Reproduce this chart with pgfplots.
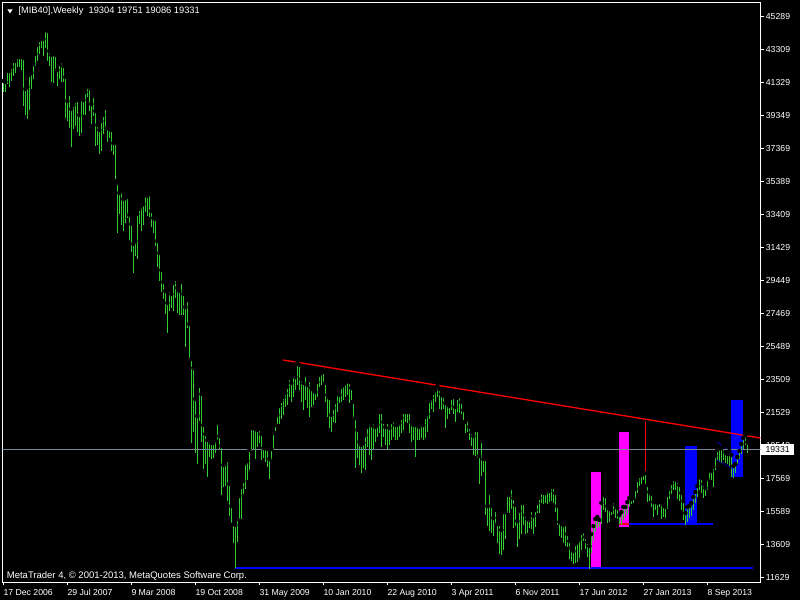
\documentclass[border=0pt]{standalone}
\usepackage{pgfplots}
\usepackage{pgfplotstable}
\usepackage{fontspec}
\setmainfont{Liberation Sans}
\usetikzlibrary{backgrounds}
\pgfplotsset{compat=1.18}
\definecolor{barg}{RGB}{50,205,50}
\definecolor{pline}{RGB}{119,136,153}
\definecolor{mag}{RGB}{255,0,255}
\definecolor{mblue}{RGB}{0,0,255}
\definecolor{mred}{RGB}{255,0,0}

\pgfplotstableread{
i hi lo
0 41431 40771
1 41371 40771
2 42031 41251
3 42031 41071
4 42271 41431
5 42631 41731
6 42631 41911
7 42871 42271
8 42871 42271
9 42931 42091
10 42811 39931
11 40951 39391
12 41071 39151
13 41791 39691
14 41911 40951
15 42451 41551
16 43051 42331
17 43591 42631
18 43891 43051
19 43951 43411
20 43951 42931
21 44491 43411
22 44431 42631
23 43231 42331
24 42991 41371
25 43051 41311
26 42991 42031
27 42091 41131
28 42451 41551
29 42631 41371
30 42331 41371
31 41671 39211
32 40231 39031
33 40651 38611
34 39751 37471
35 39991 38551
36 40231 38731
37 40291 38371
38 39391 38131
39 40351 38311
40 40291 39391
41 40771 39391
42 41131 40471
43 41011 39631
44 40051 38851
45 40531 39331
46 39631 37531
47 38791 37591
48 38491 37051
49 39031 37231
50 39391 38251
51 39811 38491
52 38611 37771
53 38551 38011
54 38491 37231
55 37711 36991
56 37711 35551
57 35311 32311
58 34711 33451
59 34831 32791
60 34351 32431
61 34411 32911
62 34471 33211
63 33391 31891
64 32851 31171
65 31651 29911
66 31831 30931
67 33451 30751
68 33751 32851
69 33931 32431
70 34051 32791
71 34591 33571
72 34531 33331
73 34651 33271
74 33631 32671
75 33211 32311
76 33151 31531
77 31831 30271
78 31111 29431
79 30091 28771
80 29371 28351
81 28831 27451
82 28111 26311
83 28891 27631
84 28651 27811
85 29311 27631
86 29551 28411
87 29011 27511
88 28831 27391
89 29371 27391
90 28651 27391
91 27871 25471
92 28291 26611
93 26851 24811
94 24751 19711
95 24211 20371
96 22351 19111
97 21331 18451
98 23131 21031
99 22651 19771
100 20791 18151
101 20251 18451
102 19891 17671
103 19891 18871
104 19711 18751
105 19711 18811
106 19891 19111
107 20911 19891
108 20131 19291
109 19531 16591
110 18391 17071
111 18451 17131
112 18691 16231
113 17251 15331
114 15931 14911
115 14851 13711
116 14791 12211
117 15151 13771
118 16531 15151
119 17071 15151
120 17431 16651
121 18511 16951
122 18631 17491
123 19291 18091
124 20611 19231
125 20611 19291
126 20551 18751
127 20491 19471
128 20551 19711
129 20251 18691
130 19411 18811
131 19411 18571
132 19351 18271
133 18751 17551
134 19351 18691
135 20311 19291
136 20791 20431
137 21391 20851
138 21931 20851
139 22231 21151
140 22471 21391
141 22711 21871
142 23071 21991
143 23611 22471
144 23311 22171
145 23731 22471
146 23671 22891
147 24511 23191
148 24391 22891
149 23551 22171
150 23311 21691
151 23791 22291
152 23191 21811
153 23491 21271
154 23011 21871
155 22891 21991
156 22771 22291
157 23371 22471
158 23791 23071
159 23911 23191
160 23971 23311
161 23311 22171
162 22591 21271
163 22411 20611
164 21391 20371
165 21811 20971
166 22171 20911
167 22771 21571
168 22591 22111
169 23071 22171
170 23191 22291
171 23311 22471
172 23491 22591
173 23371 22111
174 23011 22291
175 22171 21151
176 21211 18211
177 20491 18811
178 19771 18391
179 19591 17911
180 19711 18211
181 20191 18091
182 20671 19471
183 20971 18991
184 20791 18691
185 20971 19291
186 20671 19771
187 20791 20071
188 21571 20311
189 21571 19471
190 20971 20071
191 20671 19591
192 20971 19291
193 20611 19591
194 20971 19891
195 21091 20071
196 20791 19891
197 20791 19891
198 20911 20071
199 21211 20311
200 21571 20491
201 21571 20971
202 21571 20911
203 21571 20311
204 20971 19771
205 20791 19891
206 20791 18871
207 20791 19891
208 20671 19891
209 20851 20011
210 20791 19891
211 21271 20011
212 21451 20371
213 22231 21151
214 22411 21751
215 22711 21571
216 22891 22171
217 23131 22471
218 22951 21751
219 22651 21691
220 22531 21751
221 22111 20611
222 22051 21151
223 21931 21451
224 22411 21691
225 22471 21451
226 21871 20971
227 22411 21571
228 22531 21511
229 22171 21451
230 21691 21091
231 20971 20311
232 21151 20371
233 20671 19891
234 20371 19531
235 20131 18991
236 20491 18931
237 20491 18811
238 18931 17251
239 19831 17731
240 18751 17971
241 18751 15391
242 15931 14731
243 16711 14431
244 15931 14311
245 15211 14131
246 15691 14791
247 14851 13711
248 14851 13051
249 14491 12991
250 15571 13291
251 15571 13951
252 16591 15511
253 16591 15511
254 17011 15751
255 16411 14611
256 15991 14731
257 15031 13471
258 15631 13951
259 16111 14251
260 16111 14791
261 15391 14251
262 15151 14311
263 15091 14611
264 15691 14551
265 15331 14251
266 15691 14671
267 16111 15511
268 16411 15511
269 16771 16111
270 16711 16051
271 16711 16111
272 16891 16051
273 16831 16171
274 17071 16231
275 17071 16111
276 16711 15571
277 15931 14791
278 14971 14131
279 14911 14011
280 14791 13711
281 14851 13531
282 14251 13471
283 13831 12751
284 13411 12631
285 13231 12451
286 13651 12511
287 13771 12571
288 13951 12811
289 14311 13291
290 14431 13831
291 14071 13351
292 13771 12871
293 13531 12151
294 14251 13111
295 14731 13831
296 15151 14371
297 15271 14611
298 15091 14671
299 16111 14851
300 16651 15691
301 16531 15571
302 15931 14911
303 15751 14971
304 15691 15391
305 16231 15451
306 15991 15211
307 15811 15151
308 15391 14851
309 15571 14791
310 15871 15091
311 15871 15271
312 16171 15451
313 16411 15871
314 16351 16051
315 16411 16111
316 16951 16351
317 17491 16711
318 17731 17131
319 17791 17251
320 17851 17491
321 17911 17191
322 17191 16171
323 16771 16231
324 16651 15871
325 16171 15271
326 16171 15691
327 16111 15391
328 16171 15871
329 16171 15151
330 15991 15271
331 15871 15211
332 16591 15751
333 16951 16351
334 17311 16651
335 17551 16891
336 17551 16891
337 17431 16351
338 17191 16231
339 16711 15691
340 16231 15091
341 15511 14791
342 15871 14971
343 15931 15211
344 16111 15331
345 16471 15691
346 16771 16111
347 17131 16471
348 17671 16891
349 17611 16711
350 17251 16411
351 17011 16531
352 17551 16891
353 18031 17491
354 18031 17491
355 18271 17071
356 18931 18091
357 19291 18691
358 19411 18571
359 19411 18511
360 19471 18691
361 19171 18511
362 19051 18451
363 19231 18331
364 18991 17671
365 18331 17611
366 18451 17911
367 18871 18451
368 19231 18751
369 19651 19051
370 20011 19351
371 20191 19591
372 19751 19086
}\bars

\begin{document}
\begin{tikzpicture}[x=1pt,y=1pt]
\begin{axis}[
  at={(0,0)}, anchor=south west,
  scale only axis, width=758.2pt, height=580pt,
  xmin=-0.5, xmax=378.6, ymin=11353, ymax=46153,
  axis background/.style={fill=black},
  axis line style={white, line width=1pt},
  tick align=outside,
  major tick length=3pt,
  tick style={white, line width=1pt},
  xtick pos=bottom,
  ytick pos=right, yticklabel pos=right,
  xtick={0,32,64,96,128,160,192,224,256,288,320,352},
  xticklabels={17 Dec 2006,29 Jul 2007,9 Mar 2008,19 Oct 2008,31 May 2009,10 Jan 2010,22 Aug 2010,3 Apr 2011,6 Nov 2011,17 Jun 2012,27 Jan 2013,8 Sep 2013},
  ytick={11629,13609,15589,17569,19549,21529,23509,25489,27469,29449,31429,33409,35389,37369,39349,41329,43309,45289},
  yticklabels={11629,13609,15589,17569,19549,21529,23509,25489,27469,29449,31429,33409,35389,37369,39349,41329,43309,45289},
  xticklabel style={anchor=base west, inner sep=0pt, text=white, font=\fontsize{8.7}{10}\selectfont, yshift=-10pt},
  yticklabel style={anchor=west, inner sep=0pt, text=white, font=\fontsize{8.7}{10}\selectfont, xshift=2.2pt},
  clip=true,
]
% rectangles
\addplot[fill=mag, draw=none, forget plot] coordinates {(293.85,12229)(298.85,12229)(298.85,17971)(293.85,17971)} -- cycle;
\addplot[fill=mag, draw=none, forget plot] coordinates {(307.85,14689)(312.85,14689)(312.85,20371)(307.85,20371)} -- cycle;
\addplot[fill=mblue, draw=none, forget plot] coordinates {(340.85,14869)(346.85,14869)(346.85,19531)(340.85,19531)} -- cycle;
\addplot[fill=mblue, draw=none, forget plot] coordinates {(363.85,17671)(369.85,17671)(369.85,22291)(363.85,22291)} -- cycle;
% support lines
\addplot[mblue, line width=2.6pt, forget plot] coordinates {(115.85,12211)(374.85,12211)};
\addplot[mblue, line width=2pt, forget plot] coordinates {(313,14851)(354.85,14851)};
\addplot[mred, line width=2pt, forget plot] coordinates {(307.85,14851)(313,14851)};
% price bars
\addplot[forget plot, only marks, mark=none,
  error bars/.cd, y dir=minus, y explicit, error mark=none,
  error bar style={draw=barg, line width=1pt}]
  table[x=i, y=hi, y error expr=\thisrow{hi}-\thisrow{lo}] {\bars};
% red vertical
\addplot[mred, line width=1pt, forget plot] coordinates {(321,17851)(321,20989)};
% trend line
\addplot[mred, line width=1.3pt, forget plot] coordinates {(139.85,24691)(378.6,20011)};
% dotted channel
\addplot[mblue, line width=1pt, densely dotted, forget plot] coordinates {(356.9,19771)(362.4,19291)};
\addplot[mblue, line width=1pt, densely dotted, forget plot] coordinates {(356.9,18691)(364.9,18151)};
% current price line
\addplot[pline, line width=1pt, forget plot] coordinates {(-0.5,19331)(378.6,19331)};
\coordinate (cp) at (axis cs:378.6,19331);
\coordinate (O) at (rel axis cs:0,0);
\end{axis}
\begin{scope}[shift={(O)}, xshift=-2.3pt, yshift=-17.7pt]
  \begin{scope}[on background layer]
    \fill[black] (0,0) rectangle (800,600);
  \end{scope}
  \fill[white] (7.3,590.7) -- (12.7,590.7) -- (10,586.7) -- cycle;
  \node[anchor=base west, inner sep=0pt, text=white, font=\fontsize{9.3}{11}\selectfont] at (18.3,586) {[MIB40],Weekly\ \ 19304 19751 19086 19331};
  \node[anchor=base west, inner sep=0pt, text=white, font=\fontsize{9.5}{11}\selectfont] at (6.7,21.7) {MetaTrader 4, © 2001-2013, MetaQuotes Software Corp.};
  \coordinate (BL) at (0,0);
  \coordinate (TR) at (800,600);
\end{scope}
\node[fill=white, text=black, anchor=west, inner sep=0pt, minimum width=33.3pt, minimum height=10.7pt, font=\fontsize{8.7}{10}\selectfont] at ([xshift=0.3pt]cp) {19331};
\pgfresetboundingbox
\useasboundingbox (BL) rectangle (TR);
\end{tikzpicture}
\end{document}
